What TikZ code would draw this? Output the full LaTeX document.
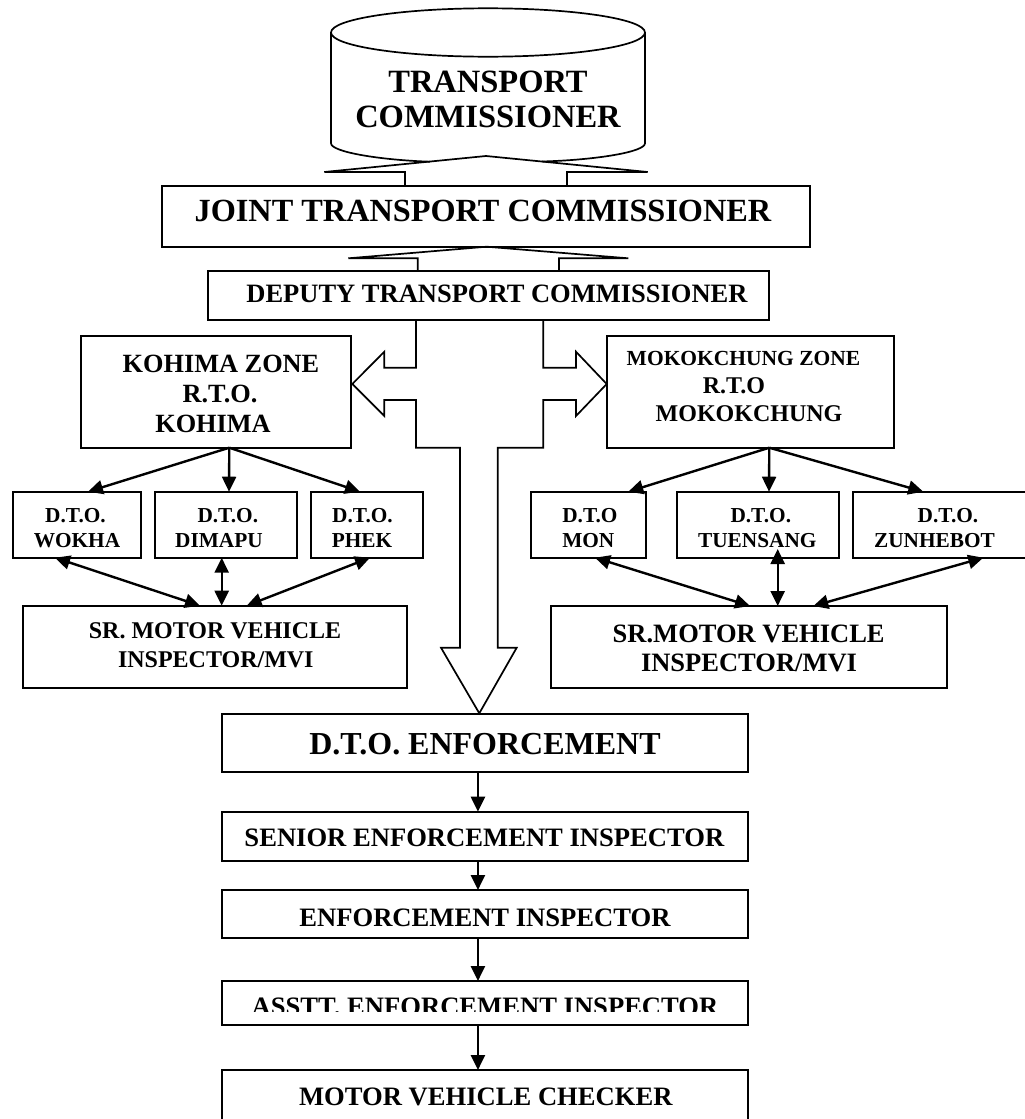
\documentclass[tikz,border=0pt]{standalone}
\usepackage{fontspec}
\setmainfont{Liberation Serif}
\usetikzlibrary{arrows.meta,calc}
\newcommand\fs[1]{\fontsize{#1}{#1}\selectfont\bfseries}
\newcommand\boxat[5]{\node[box, minimum width={(#4)-(#2)}, minimum height={(#5)-(#3)}] (#1) at ({((#2)+(#4))/2},{((#3)+(#5))/2}) {};}
\newcommand\tx[6][base]{\node[txt, anchor=#1, font=\fs{#5}] (#2) at ({#3},{(#4)+0.331*(#5)}) {#6};}
\tikzset{
  box/.style={draw, line width=2.1pt, inner sep=0pt, outer sep=0pt},
  txt/.style={inner sep=0pt, outer sep=0pt},
  outl/.style={line width=1.7pt, line join=miter},
  arr/.style={line width=2.4pt, -{Triangle[length=15pt,width=14pt]}},
  biarr/.style={line width=2.4pt, {Triangle[length=15pt,width=14pt]}-{Triangle[length=15pt,width=14pt]}},
}
\begin{document}
\begin{tikzpicture}[x=1pt,y=-1pt]
\useasboundingbox (0,0) rectangle (1025,1119);
\clip (0,0) rectangle (1025,1119);
\fill[white] (0,0) rectangle (1025,1119);

% cylinder
\draw[outl] (488,32.5) ellipse [x radius=157, y radius=24.2];
\draw[outl] (331,32.5) -- (331,143.3) .. controls (331,152) and (380,160) .. (430,161.7);
\draw[outl] (645,32.5) -- (645,143.3) .. controls (645,152) and (596,160) .. (542,161.5);
\draw[outl] (405,186) -- (405,172) -- (324.3,172) -- (486,156) -- (647.7,172) -- (567,172) -- (567,186);
\tx{tc1}{488}{82}{32.5}{TRANSPORT}
\tx{tc2}{488}{117}{32.5}{COMMISSIONER}

% JTC
\boxat{jtc}{161.7}{186}{810}{246.7}
\tx{jtct}{483}{210.7}{32.3}{JOINT TRANSPORT COMMISSIONER}
\draw[outl] (417.7,271) -- (417.7,258.3) -- (348.3,258.3) -- (486.7,246.7) -- (628.3,258.3) -- (559,258.3) -- (559,271);

% DTC
\boxat{dtc}{207.7}{271}{769}{320}
\tx{dtct}{497}{294}{26.5}{DEPUTY TRANSPORT COMMISSIONER}

% cross arrow
\draw[outl] (416,320) -- (416,367.7) -- (384.3,367.7) -- (384.3,351.7) -- (352.3,384) -- (384.3,416) -- (384.3,400) -- (416,400) -- (416,447.7) -- (460,447.7) -- (460,647.7) -- (441,647.7) -- (479.3,713.3) -- (516.7,647.7) -- (497.7,647.7) -- (497.7,447.7) -- (543.3,447.7) -- (543.3,400) -- (576,400) -- (576,416) -- (606.7,384) -- (576,351.7) -- (576,367.7) -- (543.3,367.7) -- (543.3,320);

% Kohima zone
\boxat{koh}{81}{336}{351}{447.7}
\tx{koh1}{221}{363.3}{26.3}{KOHIMA ZONE}
\tx{koh2}{220}{394}{26.3}{R.T.O.}
\tx{koh3}{213}{423.7}{26.3}{KOHIMA}

% Mokokchung zone
\boxat{mok}{606.7}{336}{894}{447.7}
\tx{mok1}{743.5}{358.3}{21.5}{MOKOKCHUNG ZONE}
\tx{mok2}{734}{385.8}{24}{R.T.O}
\tx{mok3}{749}{413.3}{24}{MOKOKCHUNG}

% DTO boxes left
\boxat{wok}{12.7}{491.7}{141}{557.7}
\tx{wok1}{75.5}{515.5}{21.3}{D.T.O.}
\tx{wok2}{77}{540.3}{21.3}{WOKHA}
\boxat{dim}{155}{491.7}{297.3}{557.7}
\tx{dim1}{227.8}{515.5}{21.3}{D.T.O.}
\tx{dim2}{219}{540.3}{21.3}{DIMAPU}
\boxat{phk}{310.7}{491.7}{423.3}{557.7}
\tx{phk1}{362.5}{515.5}{21.3}{D.T.O.}
\tx{phk2}{362}{540.3}{21.3}{PHEK}

% DTO boxes right
\boxat{mon}{531}{491.7}{645.7}{557.7}
\tx[base west]{mon1}{562.3}{515.5}{21.3}{D.T.O}
\tx[base west]{mon2}{562.3}{540.3}{21.3}{MON}
\boxat{tue}{677}{491.7}{839.3}{557.7}
\tx{tue1}{760.8}{515.5}{21.3}{D.T.O.}
\tx{tue2}{757.3}{540.3}{21.3}{TUENSANG}
\boxat{zun}{853.3}{491.7}{1035}{557.7}
\tx{zun1}{948}{515.5}{21.3}{D.T.O.}
\tx{zun2}{934.5}{540.3}{21.3}{ZUNHEBOT}

% SR MVI boxes
\boxat{srl}{22.7}{605.7}{407.3}{688.3}
\tx{srl1}{215}{630.8}{24}{SR. MOTOR VEHICLE}
\tx{srl2}{215.8}{659.2}{24}{INSPECTOR/MVI}
\boxat{srr}{551}{606}{947.3}{688.3}
\tx{srr1}{748.7}{633.3}{26.5}{SR.MOTOR VEHICLE}
\tx{srr2}{749}{662.5}{26.5}{INSPECTOR/MVI}

% arrows zone -> DTO
\draw[arr] ([xshift=148.3pt]koh.south west) -- ([xshift=75.3pt]wok.north west);
\draw[arr] ([xshift=148.3pt]koh.south west) -- ([xshift=74pt]dim.north west);
\draw[arr] ([xshift=148.3pt]koh.south west) -- ([xshift=49.3pt]phk.north west);
\draw[arr] ([xshift=162.6pt]mok.south west) -- ([xshift=97.3pt]mon.north west);
\draw[arr] ([xshift=162.6pt]mok.south west) -- ([xshift=92pt]tue.north west);
\draw[arr] ([xshift=162.6pt]mok.south west) -- ([xshift=70pt]zun.north west);

% DTO <-> SR
\draw[biarr] ([xshift=42.3pt]wok.south west) -- ([xshift=177.3pt]srl.north west);
\draw[biarr] ([xshift=66.7pt]dim.south west) -- ([xshift=199pt]srl.north west);
\draw[biarr] ([xshift=59.3pt]phk.south west) -- ([xshift=224pt]srl.north west);
\draw[biarr] ([xshift=64pt]mon.south west) -- ([xshift=199pt]srr.north west);
\draw[biarr] ([xshift=100.7pt,yshift=8.7pt]tue.south west) -- ([xshift=226.7pt]srr.north west);
\draw[biarr] ([xshift=130pt]zun.south west) -- ([xshift=262.3pt]srr.north west);

% enforcement chain
\boxat{enf}{221.7}{714}{748.2}{771.7}
\tx{enft}{485}{744}{32}{D.T.O. ENFORCEMENT}
\boxat{sei}{221.7}{811.7}{748.2}{860.7}
\tx{seit}{484.4}{837.5}{26.6}{SENIOR ENFORCEMENT INSPECTOR}
\boxat{ei}{221.7}{890}{748.2}{938.3}
\tx{eit}{485}{917.5}{26.6}{ENFORCEMENT INSPECTOR}
\boxat{aei}{221.7}{981}{748.2}{1025}
\begin{scope}
\clip (221.7,981) rectangle (748.2,1011.5);
\tx{aeit}{485}{1006.2}{26.6}{ASSTT. ENFORCEMENT INSPECTOR}
\end{scope}
\boxat{mvc}{221.7}{1070}{748.2}{1140}
\tx{mvct}{485.8}{1096.7}{26.6}{MOTOR VEHICLE CHECKER}

\draw[arr] ([xshift=-7pt]enf.south) -- ([xshift=-7pt]sei.north);
\draw[arr] ([xshift=-7pt]sei.south) -- ([xshift=-7pt]ei.north);
\draw[arr] ([xshift=-7pt]ei.south) -- ([xshift=-7pt]aei.north);
\draw[arr] ([xshift=-7pt]aei.south) -- ([xshift=-7pt]mvc.north);
\end{tikzpicture}
\end{document}
